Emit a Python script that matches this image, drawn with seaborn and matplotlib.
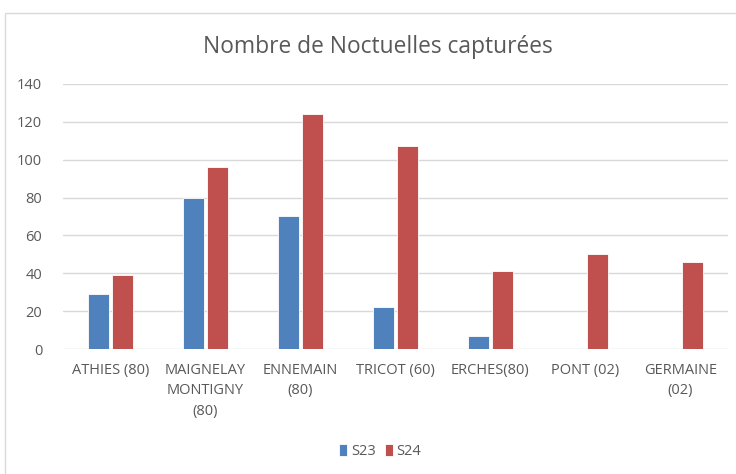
import matplotlib
matplotlib.use("Agg")
import matplotlib.pyplot as plt
import pandas as pd
import seaborn as sns
from matplotlib.patches import Rectangle

# ---------------------------------------------------------------------------
# Données
# ---------------------------------------------------------------------------

sites = [
    "ATHIES (80)", "MAIGNELAY\nMONTIGNY\n(80)", "ENNEMAIN\n(80)", "TRICOT (60)",
    "ERCHES(80)", "PONT (02)", "GERMAINE\n(02)",
]
s23 = [29, 80, 70, 22, 7, 0, 0]
s24 = [39, 96, 124, 107, 41, 50, 46]
series = ["S23", "S24"]
colors = ["#4F81BD", "#C0504D"]

df = pd.DataFrame({
    "site": sites * 2,
    "valeur": s23 + s24,
    "semaine": [series[0]] * len(sites) + [series[1]] * len(sites),
})

# ---------------------------------------------------------------------------
# Figure
# ---------------------------------------------------------------------------

sns.set_style("white")
plt.rcParams["font.family"] = ["Open Sans", "DejaVu Sans"]
text_color = "#595959"

fig = plt.figure(figsize=(7.36, 4.74), dpi=100)
ax = fig.add_axes([0.0856, 0.2637, 0.9034, 0.5593])

sns.barplot(data=df, x="site", y="valeur", hue="semaine", palette=colors,
            width=0.51, gap=0.14, ax=ax, edgecolor="white", linewidth=0.6,
            saturation=1)

ax.set_ylim(0, 140)
ax.set_yticks(range(0, 141, 20))
ax.set_xlim(-0.5, len(sites) - 0.5)
ax.yaxis.grid(True, color="#d9d9d9", linewidth=1)
ax.set_axisbelow(True)
for s in ax.spines.values():
    s.set_visible(False)
ax.set_xlabel("")
ax.set_ylabel("")
ax.tick_params(axis="both", length=0, colors=text_color, labelsize=10.5)
ax.tick_params(axis="x", pad=10)
ax.tick_params(axis="y", pad=15)
for lbl in ax.get_xticklabels():
    lbl.set_linespacing(1.5)

fig.text(0.513, 0.900, "Nombre de Noctuelles capturées", ha="center", va="center",
         fontsize=16.4, color=text_color)

leg = ax.legend(loc="center", bbox_to_anchor=(0.477, -0.385), ncol=2, frameon=False,
                handlelength=0.55, handleheight=0.9, handletextpad=0.25,
                columnspacing=0.6, fontsize=10.5)
for t in leg.get_texts():
    t.set_color(text_color)

# cadre du graphique
fig.patches.append(Rectangle((5 / 736, -0.05), 1.0, 1 - 13 / 474 + 0.05,
                             transform=fig.transFigure, fill=False,
                             edgecolor="#d9d9d9", linewidth=1))

fig.savefig("out.png", dpi=100)
plt.close(fig)
